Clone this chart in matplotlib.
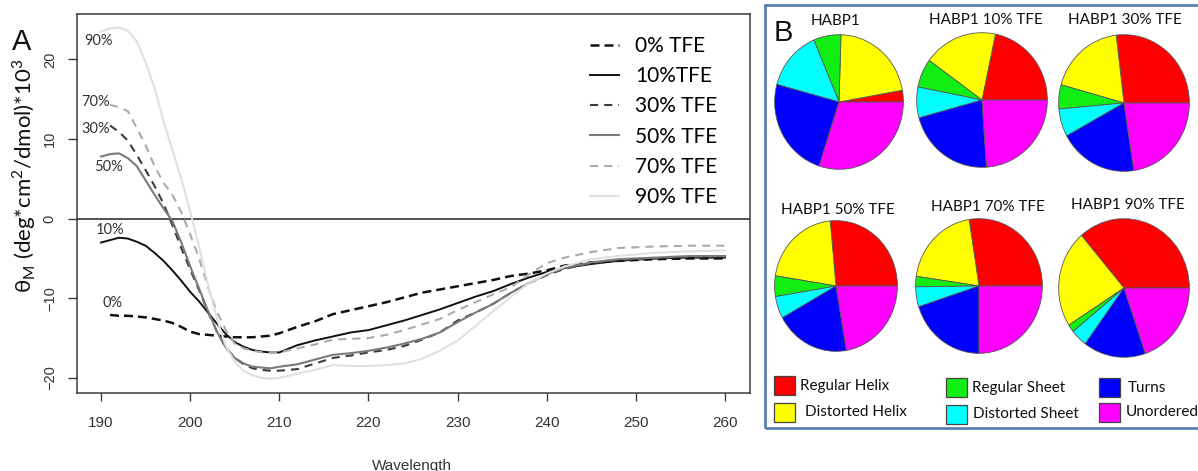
import numpy as np
import matplotlib
matplotlib.use('Agg')
import matplotlib.pyplot as plt
from matplotlib.patches import Rectangle

W, H = 1198, 471

# ---- CD spectra (panel A) ----
wavelength = [190, 191, 192, 193, 194, 195, 196, 197, 198, 199, 200, 201, 202, 203, 204,
              205, 206, 207, 208, 209, 210, 212, 214, 216, 218, 220, 222, 224, 226, 228,
              230, 232, 234, 236, 238, 240, 242, 245, 248, 252, 256, 260]
tfe_0 = [np.nan, -12.1, -12.2, -12.2, -12.3, -12.4, -12.6, -12.8, -13.1, -13.6, -14.2, -14.5,
         -14.6, -14.7, -14.8, -14.9, -14.9, -14.9, -14.8, -14.7, -14.4, -13.6, -12.9, -12.0,
         -11.5, -11.0, -10.5, -9.9, -9.3, -8.9, -8.5, -8.1, -7.7, -7.2, -6.9, -6.5, -5.9,
         -5.5, -5.3, -5.1, -5.0, -5.0]
tfe_10 = [-3.0, -2.7, -2.4, -2.5, -2.9, -3.4, -4.3, -5.3, -6.5, -7.8, -9.2, -10.4, -11.8,
          -13.2, -14.5, -15.5, -16.1, -16.5, -16.7, -16.8, -16.8, -15.9, -15.3, -14.8, -14.3,
          -14.0, -13.4, -12.8, -12.1, -11.4, -10.6, -9.8, -9.1, -8.2, -7.4, -6.7, -6.2, -5.7,
          -5.3, -5.0, -4.9, -4.9]
tfe_30 = [np.nan, 11.7, 10.9, 9.8, 8.0, 6.1, 4.1, 1.9, -0.8, -3.7, -6.4, -9.0, -11.7, -14.2,
          -16.2, -17.5, -18.3, -18.8, -19.0, -19.1, -19.1, -18.9, -18.2, -17.5, -17.2, -16.8,
          -16.5, -16.0, -15.2, -14.3, -12.8, -11.8, -10.7, -9.3, -8.1, -7.1, -6.3, -5.6, -5.2,
          -5.0, -4.8, -4.8]
tfe_50 = [7.8, 8.1, 8.2, 7.6, 6.6, 4.8, 3.0, 1.3, -0.3, -3.0, -6.0, -8.8, -11.6, -14.2, -16.2,
          -17.5, -18.2, -18.6, -18.7, -18.8, -18.6, -18.3, -17.7, -17.1, -16.9, -16.6, -16.2,
          -15.7, -15.1, -14.3, -13.0, -11.8, -10.7, -9.3, -8.1, -7.0, -6.2, -5.5, -5.1, -4.9,
          -4.7, -4.7]
tfe_70 = [np.nan, 14.3, 14.0, 13.5, 11.4, 9.2, 6.6, 4.5, 3.0, 0.8, -2.0, -5.0, -8.6, -11.7,
          -14.0, -15.7, -16.3, -16.6, -16.8, -16.8, -16.8, -16.3, -15.8, -15.2, -15.1, -15.0,
          -14.6, -14.0, -13.3, -12.6, -11.5, -10.5, -9.5, -8.6, -7.0, -5.6, -4.9, -4.2, -3.7,
          -3.5, -3.4, -3.4]
tfe_90 = [23.5, 23.9, 24.0, 23.6, 22.3, 19.6, 16.4, 12.3, 8.6, 5.0, 0.9, -3.6, -8.3, -12.6,
          -16.0, -18.0, -19.1, -19.7, -20.0, -20.1, -20.0, -19.5, -19.0, -18.4, -18.5, -18.5,
          -18.4, -18.2, -17.6, -16.6, -15.3, -13.5, -11.6, -9.8, -8.1, -6.9, -6.0, -5.1, -4.7,
          -4.3, -4.1, -4.0]

series_labels = ['0% TFE', '10%TFE', '30% TFE', '50% TFE', '70% TFE', '90% TFE']
curve_tags = ['0%', '10%', '30%', '50%', '70%', '90%']

# ---- secondary structure (panel B) ----
pie_titles = ['HABP1', 'HABP1 10% TFE', 'HABP1 30% TFE',
              'HABP1 50% TFE', 'HABP1 70% TFE', 'HABP1 90% TFE']
structure_names = ['Regular Helix', 'Distorted Helix', 'Regular Sheet',
                   'Distorted Sheet', 'Turns', 'Unordered']
habp1 = [2.8, 21.7, 6.9, 14.4, 24.2, 30.0]
habp1_10 = [21.7, 18.3, 6.9, 7.4, 21.8, 23.9]
habp1_30 = [26.9, 18.8, 5.7, 6.6, 19.4, 22.6]
habp1_50 = [26.5, 21.0, 5.1, 5.5, 19.6, 22.3]
habp1_70 = [27.5, 20.2, 2.5, 4.8, 20.0, 25.0]
habp1_90 = [36.3, 22.7, 1.8, 4.1, 15.4, 19.7]

calibri_like = ['Lato', 'DejaVu Sans']
arial_like = ['Liberation Sans', 'DejaVu Sans']


def fx(px):
    return px / W


def fy(py):
    return 1 - py / H


fig = plt.figure(figsize=(W / 100, H / 100), dpi=100)

# ---------------- Panel A ----------------
ax = fig.add_axes([fx(77), fy(393), (750 - 77) / W, (393 - 14) / H])

styles = [
    dict(color='#111111', lw=1.8, dashes=(3.6, 2.0)),
    dict(color='#111111', lw=1.4, ls='-'),
    dict(color='#3c3c3c', lw=1.5, dashes=(3.9, 2.9)),
    dict(color='#7a7a7a', lw=1.5, ls='-'),
    dict(color='#ababab', lw=1.5, dashes=(3.9, 2.9)),
    dict(color='#e0e0e0', lw=1.5, ls='-'),
]
tag_offsets = [(2.2, 8.6), (6.4, 9.2), (-10.2, -2.9), (5.4, -7.4), (-10.2, 2.3), (-2.2, -6.9)]

all_series = [tfe_0, tfe_10, tfe_30, tfe_50, tfe_70, tfe_90]
for vals, lab, st, tag, off in zip(all_series, series_labels, styles, curve_tags, tag_offsets):
    ax.plot(wavelength, vals, label=lab, solid_joinstyle='round', **st)
    first = next(i for i, v in enumerate(vals) if not np.isnan(v))
    ax.annotate(tag, (wavelength[first], vals[first]), xytext=off,
                textcoords='offset points', ha='center', va='center',
                fontsize=10.5, color='#333333', family=calibri_like)

ax.axhline(0, color='#222222', lw=1.1, zorder=0)

ax.set_xlim(187.3, 262.8)
ax.set_ylim(-21.9, 25.7)
ax.set_xticks(np.arange(190, 261, 10))
ax.set_yticks([-20, -10, 0, 10, 20])
for s in ax.spines.values():
    s.set_color('#3a3a3a')
    s.set_linewidth(1.1)
ax.tick_params(axis='x', direction='out', length=5.8, width=1.0, color='#3a3a3a',
               pad=11, labelsize=11, labelcolor='#333333')
ax.tick_params(axis='y', direction='out', length=6.5, width=1.0, color='#3a3a3a',
               pad=8, labelsize=10.5, labelcolor='#333333', labelrotation=90)
for t in ax.get_xticklabels() + ax.get_yticklabels():
    t.set_family(arial_like)
for t in ax.get_yticklabels():
    t.set_va('center')

leg = ax.legend(loc='upper left', bbox_to_anchor=(0.7623, 0.942), frameon=False,
                borderpad=0, borderaxespad=0, handlelength=1.4, handletextpad=0.75,
                labelspacing=0.49, prop={'family': calibri_like, 'size': 15})

fig.text(fx(412), fy(466), 'Wavelength', ha='center', va='center',
         fontsize=11, color='#333333', family=arial_like)
fig.text(fx(24), fy(176), r'θ$_\mathregular{M}$ (deg*cm$^\mathregular{2}$/dmol)*10$^\mathregular{3}$',
         rotation=90, ha='center', va='center', fontsize=16, color='#111111',
         family=calibri_like)
fig.text(fx(22), fy(42), 'A', ha='center', va='center', fontsize=21,
         color='#111111', family=arial_like)

# ---------------- Panel B ----------------
fig.add_artist(Rectangle((fx(765), fy(428)), (1210 - 765) / W, (428 - 5) / H,
                         transform=fig.transFigure, fill=False,
                         edgecolor='#5b80b0', lw=2.0))
fig.text(fx(783), fy(33), 'B', ha='center', va='center', fontsize=21,
         color='#111111', family=arial_like)

pie_colors = ['#ff0000', '#ffff00', '#11ee11', '#00ffff', '#0000ff', '#ff00ff']
pie_boxes = [  # centre x, centre y, radius x, radius y (pixels)
    (839, 102, 65, 68), (982, 100, 66, 68), (1124, 103, 66, 69),
    (836, 286, 62, 66), (979, 286, 64, 68), (1124, 288, 66, 70),
]
title_pos = [(835, 21), (986, 20), (1125, 20), (838, 210), (988, 207), (1128, 205)]
pie_data = [habp1, habp1_10, habp1_30, habp1_50, habp1_70, habp1_90]

for vals, title, (cx, cy, rx, ry), (tx, ty) in zip(pie_data, pie_titles, pie_boxes, title_pos):
    pax = fig.add_axes([fx(cx - rx), fy(cy + ry), 2 * rx / W, 2 * ry / H])
    pax.pie(vals, colors=pie_colors, startangle=0, counterclock=True,
            wedgeprops=dict(edgecolor='#555555', linewidth=0.6))
    pax.set_aspect('auto')
    pax.set_xlim(-1.01, 1.01)
    pax.set_ylim(-1.01, 1.01)
    pax.axis('off')
    fig.text(fx(tx), fy(ty), title, ha='center', va='center', fontsize=11,
             color='#111111', family=calibri_like)

legend_boxes = [  # square left, top, text x, text y (pixels)
    (774, 376, 800, 386), (774, 403, 805, 412),
    (946, 378, 972, 388), (946, 405, 973, 414),
    (1099, 378, 1128, 388), (1099, 403, 1126, 412),
]
for name, col, (sx, sy, tx, ty) in zip(structure_names, pie_colors, legend_boxes):
    fig.add_artist(Rectangle((fx(sx), fy(sy + 19)), 21 / W, 19 / H,
                             transform=fig.transFigure, facecolor=col,
                             edgecolor='#444444', lw=0.9))
    fig.text(fx(tx), fy(ty), name, ha='left', va='center', fontsize=11,
             color='#111111', family=calibri_like)

fig.savefig('out.png', dpi=100)
